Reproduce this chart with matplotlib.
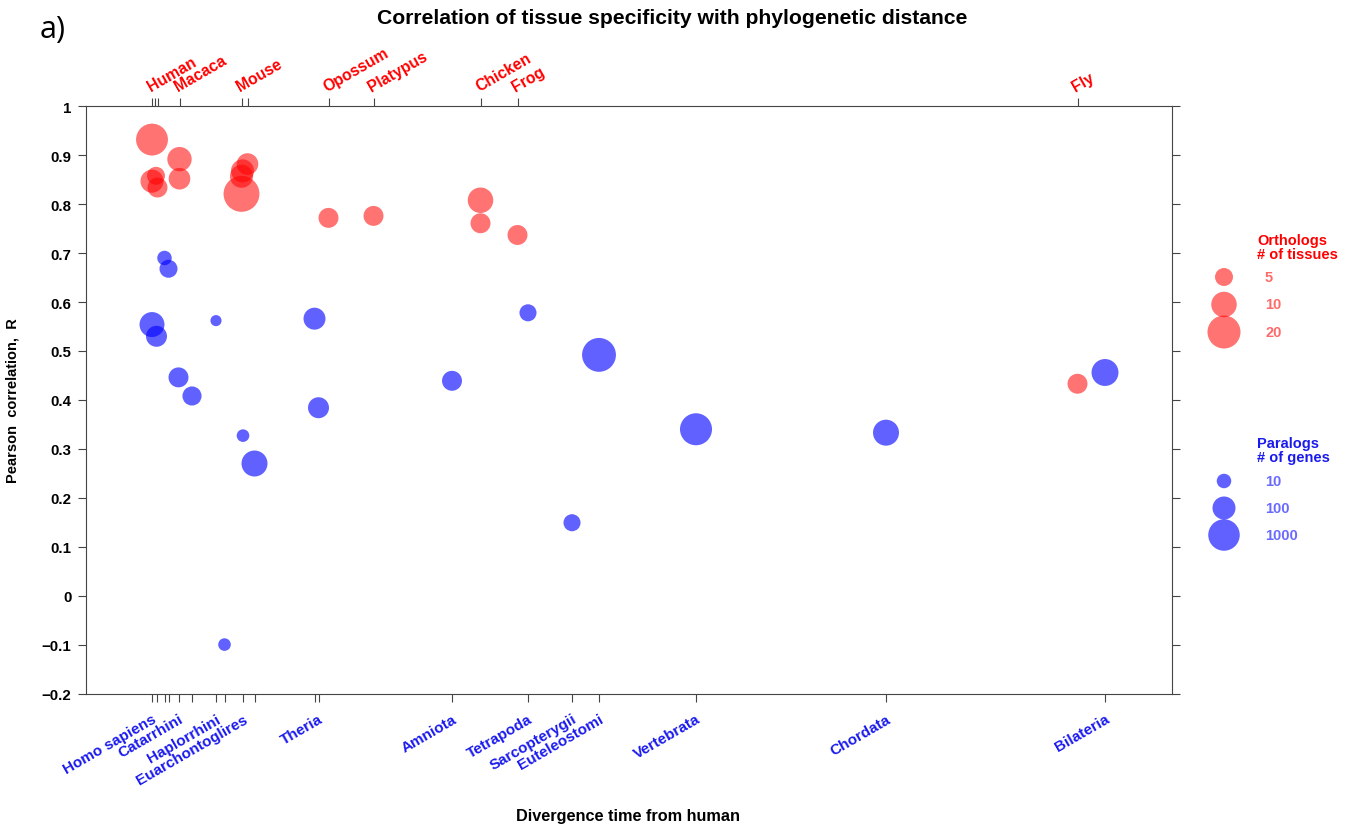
import numpy as np
import matplotlib
matplotlib.use('Agg')
import matplotlib.pyplot as plt

plt.rcParams['font.family'] = ['Liberation Sans', 'DejaVu Sans']
plt.rcParams['font.weight'] = 'bold'
plt.rcParams['axes.labelweight'] = 'bold'

# divergence time axis (approx. Mya, human = 0)
clade_ticks = [0, 4.5, 12.5, 16.5, 26.5, 40, 64, 72.5, 91, 102.5, 162.5, 166.5,
               300, 376, 420, 447, 544, 734, 953]
clade_labels = ['Homo sapiens', '', '', '', 'Catarrhini', '', 'Haplorrhini', '',
                'Euarchontoglires', '', '', 'Theria', 'Amniota', 'Tetrapoda',
                'Sarcopterygii', 'Euteleostomi', 'Vertebrata', 'Chordata', 'Bilateria']

species_ticks = [0, 2.5, 5.5, 27.5, 89.5, 95.5, 176.5, 221.5, 328.5, 365.5, 925.5]
species_labels = ['Human', '', '', 'Macaca', 'Mouse', '', 'Opossum', 'Platypus',
                  'Chicken', 'Frog', 'Fly']

# orthologs: correlation per species comparison, sized by number of tissues
orth_x = [0, 27.5, 4, 0, 5.5, 27.5, 95.5, 90.5, 89.5, 89.5,
          176.5, 221.5, 328.5, 328.5, 365.5, 925.5]
orth_r = [0.932, 0.892, 0.858, 0.847, 0.834, 0.852, 0.882, 0.868, 0.857, 0.821,
          0.772, 0.776, 0.808, 0.761, 0.737, 0.433]
orth_tissues = [18, 9, 5, 8, 6, 7, 7, 8, 8, 26, 6, 6, 10, 6, 6, 6]

# paralogs: correlation per duplication age, sized by number of genes
para_x = clade_ticks
para_r = [0.554, 0.530, 0.690, 0.668, 0.446, 0.408, 0.562, -0.100, 0.327, 0.270,
          0.566, 0.384, 0.439, 0.578, 0.149, 0.492, 0.340, 0.333, 0.456]
para_genes = [170, 58, 10, 26, 44, 35, 4, 6, 6, 225, 76, 58, 44, 20, 20, 1900,
              1150, 225, 290]

orth_legend = [5, 10, 20]
para_legend = [10, 100, 1000]

RED = '#ff0000'
BLUE = '#0000ff'
W, H = 1358, 828


def orth_size(n):
    d = 0.5 + 25.0 * np.log10(np.asarray(n, dtype=float))  # diameter in px
    return (d * 0.72) ** 2


def para_size(n):
    d = 6.0 + 8.5 * np.log10(np.asarray(n, dtype=float))
    return (d * 0.72) ** 2


fig = plt.figure(figsize=(13.58, 8.28), dpi=100)
ax = fig.add_axes([85.5 / W, 1 - 694.5 / H, (1171.7 - 85.5) / W, (694.5 - 107.3) / H])

ax.scatter(orth_x, orth_r, s=orth_size(orth_tissues), color=RED, alpha=0.55,
           edgecolors='none', zorder=3)
ax.scatter(para_x, para_r, s=para_size(para_genes), color=BLUE, alpha=0.62,
           edgecolors='none', zorder=3)

ax.set_xlim(-66.5, 1019.7)
ax.set_ylim(-0.2, 1.0)
ax.set_yticks(np.arange(-0.2, 1.01, 0.1))
ax.set_yticklabels(['\u22120.2', '\u22120.1', '0', '0.1', '0.2', '0.3', '0.4', '0.5',
                    '0.6', '0.7', '0.8', '0.9', '1'], fontweight='bold')
ax.set_xticks(clade_ticks)
ax.set_xticklabels(clade_labels, rotation=30, ha='right', rotation_mode='anchor',
                   color='#1a1aee', fontsize=11, fontweight='bold')
ax.tick_params(axis='x', direction='out', length=6, width=0.8, color='#444444', pad=7)
ax.tick_params(axis='y', direction='out', length=6, width=0.8, color='#444444',
               right=True, labelsize=10.8, pad=4)
for sp in ax.spines.values():
    sp.set_color('#444444')
    sp.set_linewidth(0.8)

top = ax.secondary_xaxis('top')
top.set_xticks(species_ticks)
top.set_xticklabels(species_labels, rotation=30, ha='left', rotation_mode='anchor',
                    color=RED, fontsize=11.3, fontweight='bold')
top.tick_params(direction='out', length=6, width=0.8, color='#444444', pad=3)
top.spines['top'].set_visible(False)

ax.set_ylabel('Pearson  correlation,  R', fontsize=10.5, fontweight='bold')
ax.yaxis.set_label_coords(-(85.5 - 20) / 1086.2, 0.5)
fig.text(628 / W, 1 - 817 / H, 'Divergence time from human', ha='center', va='center',
         fontsize=11.7, fontweight='bold')
fig.text(672 / W, 1 - 18 / H, 'Correlation of tissue specificity with phylogenetic distance',
         ha='center', va='center', fontsize=15.2, fontweight='bold')
fig.text(40 / W, 1 - 30 / H, 'a)', ha='left', va='center', fontsize=22,
         fontweight='normal', family='Open Sans')

# size legends, drawn in a pixel-space overlay
lax = fig.add_axes([0, 0, 1, 1])
lax.set_xlim(0, W)
lax.set_ylim(H, 0)
lax.axis('off')

lax.text(1257, 248, 'Orthologs\n# of tissues', color=RED, fontsize=10.5, va='center',
         linespacing=0.95, fontweight='bold')
for i, n in enumerate(orth_legend):
    y = 278 + i * 27.5
    lax.scatter([1224], [y], s=orth_size([n]), color=RED, alpha=0.55, edgecolors='none')
    lax.text(1265, y, str(n), color='#ff6a6a', fontsize=10.5, va='center', fontweight='bold')

lax.text(1257, 451, 'Paralogs\n# of genes', color='#1a1aee', fontsize=10.5, va='center',
         linespacing=0.95, fontweight='bold')
for i, n in enumerate(para_legend):
    y = 482 + i * 27
    lax.scatter([1224], [y], s=para_size([n]), color=BLUE, alpha=0.62, edgecolors='none')
    lax.text(1265, y, str(n), color='#6a6aff', fontsize=10.5, va='center', fontweight='bold')

fig.savefig('out.png', dpi=100)
